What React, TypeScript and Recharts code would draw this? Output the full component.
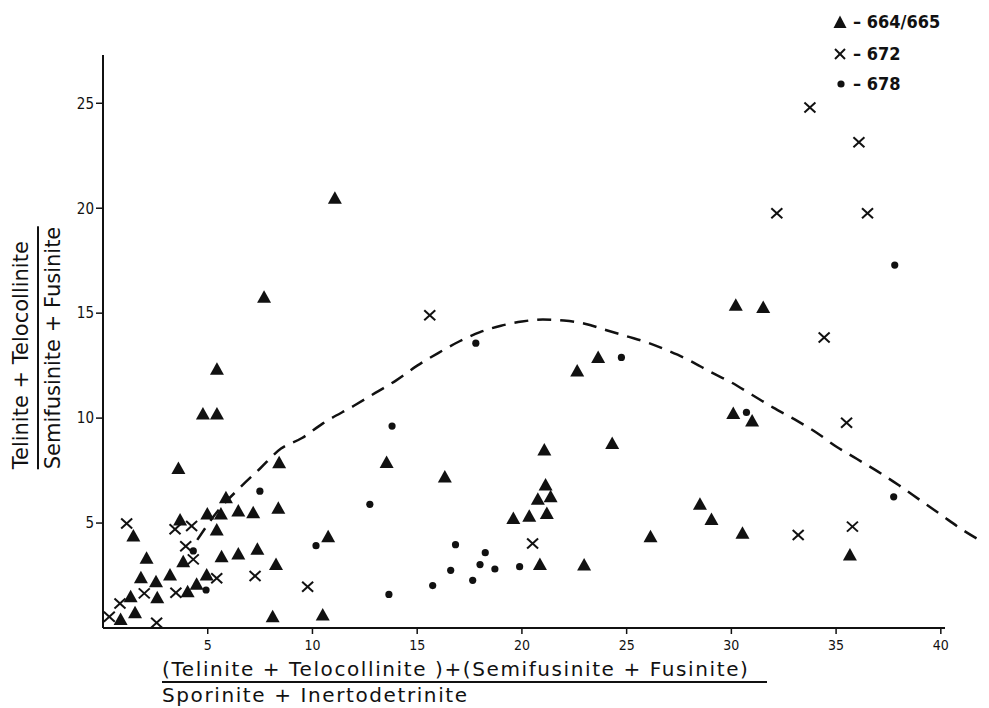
import { ComposedChart, Scatter, Line, XAxis, YAxis, ReferenceLine } from 'recharts';

type Pt = [number, number];

// values (x = ratio below, y = ratio left)
const tri664: Pt[] = [
  [11.07, 20.48], [7.69, 15.76], [5.44, 12.33], [4.77, 10.19], [5.44, 10.19],
  [3.6, 7.6], [8.41, 7.87], [5.87, 6.2], [4.98, 5.43], [5.63, 5.43], [6.46, 5.57],
  [7.17, 5.49], [8.37, 5.7], [3.68, 5.14], [5.43, 4.67], [1.45, 4.38], [2.08, 3.32],
  [3.83, 3.16], [5.66, 3.4], [6.46, 3.52], [7.37, 3.75], [8.26, 3.03], [10.75, 4.35],
  [1.81, 2.4], [2.53, 2.2], [3.2, 2.52], [4.95, 2.52], [4.47, 2.08], [4.04, 1.73],
  [1.32, 1.49], [2.59, 1.44], [1.53, 0.73], [0.84, 0.41], [8.1, 0.54], [10.49, 0.62],
  [13.54, 7.89], [16.32, 7.2], [21.07, 8.48], [21.13, 6.81], [20.76, 6.14], [21.37, 6.25],
  [19.59, 5.22], [20.35, 5.33], [21.19, 5.46], [20.86, 3.03], [22.97, 3.0],
  [30.21, 15.38], [31.52, 15.27], [23.64, 12.89], [22.64, 12.25], [30.09, 10.22],
  [30.99, 9.86], [24.31, 8.79], [28.5, 5.9], [29.05, 5.17], [26.14, 4.35], [30.53, 4.51],
  [35.66, 3.48],
];

const cross672: Pt[] = [
  [15.6, 14.9], [1.13, 4.98], [3.44, 4.7], [4.23, 4.86], [3.95, 3.9], [4.31, 3.27],
  [5.43, 2.37], [7.26, 2.48], [1.97, 1.65], [3.48, 1.68], [0.81, 1.17], [0.3, 0.54],
  [2.56, 0.25], [9.77, 1.97], [20.51, 4.03], [34.43, 13.84], [35.5, 9.78], [33.19, 4.43],
  [35.78, 4.83], [33.75, 24.8], [36.09, 23.14], [32.17, 19.76], [36.5, 19.76],
];

const dot678: Pt[] = [
  [13.8, 9.62], [7.49, 6.52], [10.17, 3.92], [4.92, 1.81], [4.31, 3.67], [12.74, 5.89],
  [13.65, 1.6], [16.83, 3.97], [18.25, 3.59], [18.0, 3.02], [18.71, 2.81], [19.89, 2.92],
  [16.6, 2.75], [17.65, 2.27], [15.74, 2.02], [37.8, 17.29], [24.75, 12.89], [30.72, 10.27],
  [37.75, 6.25], [17.8, 13.57],
];

// dashed envelope curve
const curve: Pt[] = [
  [4.5, 4.2], [5.5, 5.6], [6.5, 6.65], [7.5, 7.6], [8.5, 8.55], [9.5, 9.05], [10.5, 9.75],
  [12, 10.6], [13, 11.2], [14, 11.8], [15, 12.5], [16, 13.1], [17, 13.65], [18, 14.1],
  [19, 14.4], [20, 14.6], [21, 14.7], [22, 14.65], [23, 14.5], [24, 14.2], [25, 13.9],
  [26, 13.6], [27, 13.2], [28, 12.75], [29, 12.2], [30, 11.7], [31, 11.1], [32, 10.5],
  [33, 9.95], [34, 9.35], [35, 8.65], [36, 8.05], [37, 7.45], [38, 6.8], [39, 6.1],
  [40, 5.4], [41, 4.7], [42, 4.1],
];

const xTicks = [5, 10, 15, 20, 25, 30, 35, 40];
const yTicks = [5, 10, 15, 20, 25];

const toRows = (pts: Pt[]) => pts.map(([x, y]) => ({ x, y }));

const INK = '#111';
const COND = '"DejaVu Sans Condensed", "DejaVu Sans", Roboto, sans-serif';
const SANS = '"DejaVu Sans", Roboto, sans-serif';

const Triangle = (p: any) => (
  <polygon
    points={`${p.cx},${p.cy - 7} ${p.cx - 7},${p.cy + 5.5} ${p.cx + 7},${p.cy + 5.5}`}
    fill={INK}
  />
);

const Cross = (p: any) => (
  <g stroke={INK} strokeWidth={2}>
    <line x1={p.cx - 5.5} y1={p.cy - 5} x2={p.cx + 5.5} y2={p.cy + 5} />
    <line x1={p.cx - 5.5} y1={p.cy + 5} x2={p.cx + 5.5} y2={p.cy - 5} />
  </g>
);

const Dot = (p: any) => <circle cx={p.cx} cy={p.cy} r={3.6} fill={INK} />;

const legendRow = { position: 'absolute' as const, left: 832, display: 'flex', alignItems: 'center', fontSize: 18, fontFamily: COND, fontWeight: 'bold' as const };

export default function App() {
  return (
    <div style={{ position: 'absolute', left: 0, top: 0, width: 989, height: 708, background: '#fff', color: INK, overflow: 'hidden' }}>
      <ComposedChart width={989} height={708} margin={{ top: 55, right: 0, bottom: 50, left: 73 }}>
        <XAxis
          type="number"
          dataKey="x"
          domain={[0, 42.3]}
          ticks={xTicks}
          axisLine={false}
          tickLine={{ stroke: INK, strokeWidth: 1.5 }}
          tickSize={6}
          tickMargin={6}
          tick={{ fill: INK, fontSize: 14, fontFamily: COND }}
          height={30}
          allowDataOverflow
        />
        <YAxis
          type="number"
          dataKey="y"
          domain={[0, 27.3]}
          ticks={yTicks}
          axisLine={{ stroke: INK, strokeWidth: 2 }}
          tickLine={{ stroke: INK, strokeWidth: 1.5 }}
          tickSize={7}
          tickMargin={2}
          tick={{ fill: INK, fontSize: 15, fontFamily: COND }}
          width={30}
          allowDataOverflow
        />
        <ReferenceLine
          segment={[{ x: 0, y: 0 }, { x: 40.2, y: 0 }]}
          stroke={INK}
          strokeWidth={2}
          ifOverflow="visible"
        />
        <Line
          data={toRows(curve)}
          dataKey="y"
          type="monotone"
          stroke={INK}
          strokeWidth={2.5}
          strokeDasharray="14 9"
          dot={false}
          activeDot={false}
          isAnimationActive={false}
        />
        <Scatter data={toRows(tri664)} dataKey="y" shape={Triangle} isAnimationActive={false} />
        <Scatter data={toRows(cross672)} dataKey="y" shape={Cross} isAnimationActive={false} />
        <Scatter data={toRows(dot678)} dataKey="y" shape={Dot} isAnimationActive={false} />
      </ComposedChart>

      {/* legend */}
      <div style={{ ...legendRow, top: 11 }}>
        <svg width={16} height={16}><polygon points="8,1.5 1.5,14 14.5,14" fill={INK} /></svg>
        <span style={{ marginLeft: 5 }}>– 664/665</span>
      </div>
      <div style={{ ...legendRow, top: 43 }}>
        <svg width={16} height={16}>
          <g stroke={INK} strokeWidth={2}>
            <line x1={3} y1={3} x2={13} y2={13} />
            <line x1={3} y1={13} x2={13} y2={3} />
          </g>
        </svg>
        <span style={{ marginLeft: 5 }}>– 672</span>
      </div>
      <div style={{ ...legendRow, top: 73 }}>
        <svg width={16} height={16}><circle cx={9} cy={8} r={3.6} fill={INK} /></svg>
        <span style={{ marginLeft: 5 }}>– 678</span>
      </div>

      {/* y-axis title (fraction) */}
      <div
        style={{
          position: 'absolute',
          left: 37,
          top: 348,
          transform: 'translate(-50%, -50%) rotate(-90deg)',
          fontSize: 21,
          fontFamily: SANS,
          whiteSpace: 'nowrap',
          lineHeight: '28px',
        }}
      >
        <div style={{ borderBottom: `2px solid ${INK}`, paddingBottom: 2 }}>Telinite + Telocollinite</div>
        <div>Semifusinite + Fusinite</div>
      </div>

      {/* x-axis title (fraction) */}
      <div style={{ position: 'absolute', left: 162, top: 659, fontSize: 20, fontFamily: SANS, lineHeight: '21px', whiteSpace: 'nowrap', letterSpacing: 1.6 }}>
        <div style={{ width: 605, borderBottom: `2px solid ${INK}`, paddingBottom: 1 }}>
          (Telinite + Telocollinite )+(Semifusinite + Fusinite)
        </div>
        <div style={{ paddingTop: 2 }}>Sporinite + Inertodetrinite</div>
      </div>
    </div>
  );
}
